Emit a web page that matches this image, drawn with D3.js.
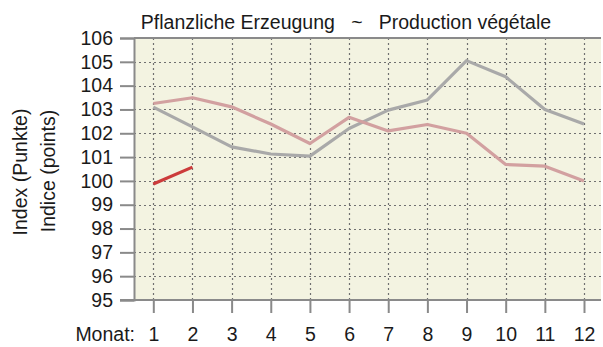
<!DOCTYPE html>
<html>
<head>
<meta charset="utf-8">
<script src="https://cdn.jsdelivr.net/npm/d3@7"></script>
<style>
  html, body { margin: 0; padding: 0; background: #fff; }
  svg { display: block; font-family: "Liberation Sans", Arial, sans-serif; }
</style>
</head>
<body>
<svg id="chart" width="603" height="347"></svg>
<script>
// Monthly crop production index
const months = [1, 2, 3, 4, 5, 6, 7, 8, 9, 10, 11, 12];
const yTicks = [95, 96, 97, 98, 99, 100, 101, 102, 103, 104, 105, 106];
const seriesPrior2 = [103.1, 102.27, 101.43, 101.13, 101.04, 102.2, 102.97, 103.4, 105.05, 104.37, 103.0, 102.39];
const seriesPrior1 = [103.25, 103.49, 103.11, 102.39, 101.57, 102.67, 102.1, 102.37, 102.0, 100.69, 100.62, 100.0];
const seriesCurrent = [99.87, 100.58];

const title = "Pflanzliche Erzeugung   ~   Production végétale";
const yTitle1 = "Index (Punkte)";
const yTitle2 = "Indice (points)";
const xLabelPrefix = "Monat:";

const FS = 19.5;
const svg = d3.select("#chart");
const plotLeft = 134, plotRight = 601, plotTop = 38, plotBottom = 300;

const x = d3.scaleLinear().domain([1, 12]).range([153.3, 584]);
const y = d3.scaleLinear().domain([95, 106]).range([plotBottom, plotTop]);

// plot background
svg.append("rect")
  .attr("x", plotLeft).attr("y", plotTop)
  .attr("width", plotRight - plotLeft).attr("height", plotBottom - plotTop)
  .attr("fill", "#f3f3e1");

// dotted grid
const grid = svg.append("g").attr("stroke", "#707070").attr("stroke-width", 1.2)
  .attr("stroke-dasharray", "2,3");
grid.selectAll(".hg").data(yTicks.filter(d => d > 95 && d < 106)).join("line")
  .attr("x1", plotLeft).attr("x2", plotRight)
  .attr("y1", d => Math.round(y(d)) + 0.5).attr("y2", d => Math.round(y(d)) + 0.5);
grid.selectAll(".vg").data(months).join("line")
  .attr("x1", d => Math.round(x(d)) + 0.5).attr("x2", d => Math.round(x(d)) + 0.5)
  .attr("y1", plotTop).attr("y2", plotBottom);

// y axis
const yAxis = d3.axisLeft(y).tickValues(yTicks).tickSize(14).tickPadding(7).tickFormat(d3.format("d"));
const gy = svg.append("g").attr("transform", `translate(${plotLeft},0)`).call(yAxis);
gy.select(".domain").attr("stroke", "#8a8a8a").attr("stroke-width", 2);
gy.selectAll(".tick line").attr("stroke", "#8a8a8a").attr("stroke-width", 2);
gy.selectAll(".tick text").attr("font-size", FS).attr("fill", "#1a1a1a")
  .attr("font-family", "Liberation Sans, Arial, sans-serif");

// top border
svg.append("line").attr("x1", plotLeft).attr("x2", plotRight)
  .attr("y1", plotTop).attr("y2", plotTop)
  .attr("stroke", "#8a8a8a").attr("stroke-width", 2);

// x axis
const xAxis = d3.axisBottom(x).tickValues(months).tickSize(13).tickPadding(14).tickFormat(d3.format("d"));
const gx = svg.append("g").attr("transform", `translate(0,${plotBottom})`).call(xAxis);
gx.select(".domain").remove();
gx.append("line").attr("x1", 120).attr("x2", plotRight).attr("y1", 0).attr("y2", 0)
  .attr("stroke", "#8a8a8a").attr("stroke-width", 2);
gx.selectAll(".tick line").attr("stroke", "#8a8a8a").attr("stroke-width", 2);
gx.selectAll(".tick text").attr("font-size", FS).attr("fill", "#1a1a1a")
  .attr("font-family", "Liberation Sans, Arial, sans-serif");

svg.append("text").attr("x", 135).attr("y", 341)
  .attr("text-anchor", "end").attr("font-size", FS).attr("fill", "#1a1a1a")
  .text(xLabelPrefix);

// title
svg.append("text").attr("x", 346).attr("y", 29)
  .attr("text-anchor", "middle").attr("font-size", FS).attr("fill", "#1a1a1a")
  .attr("xml:space", "preserve").style("white-space", "pre")
  .text(title);

// y axis titles
svg.append("text").attr("transform", "translate(27,172) rotate(-90)")
  .attr("text-anchor", "middle").attr("font-size", FS).attr("fill", "#1a1a1a")
  .text(yTitle1);
svg.append("text").attr("transform", "translate(55,171) rotate(-90)")
  .attr("text-anchor", "middle").attr("font-size", FS).attr("fill", "#1a1a1a")
  .text(yTitle2);

// series lines
const line = d3.line().x((d, i) => x(months[i])).y(d => y(d));
const series = [
  { values: seriesPrior2, color: "#a9a9a9" },
  { values: seriesPrior1, color: "#d2a0a0" },
  { values: seriesCurrent, color: "#cc3b3b" }
];
svg.append("g").selectAll("path").data(series).join("path")
  .attr("d", d => line(d.values))
  .attr("fill", "none")
  .attr("stroke", d => d.color)
  .attr("stroke-width", 3.2)
  .attr("stroke-linejoin", "round");
</script>
</body>
</html>
